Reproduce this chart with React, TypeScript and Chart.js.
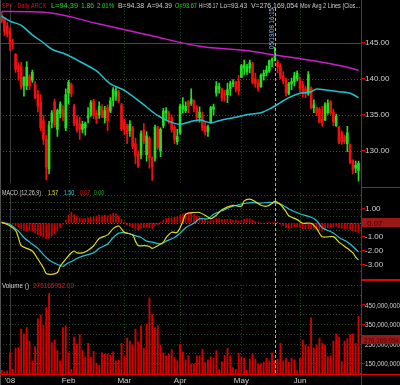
import { useEffect, useRef } from "react";
import { Chart, registerables } from "chart.js";

Chart.register(...registerables);

// ---------------- data ----------------
const MONTH_DAYS: [string, number[]][] = [
  ["2007-12", [27, 28, 31]],
  ["2008-01", [2, 3, 4, 7, 8, 9, 10, 11, 14, 15, 16, 17, 18, 22, 23, 24, 25, 28, 29, 30, 31]],
  ["2008-02", [1, 4, 5, 6, 7, 8, 11, 12, 13, 14, 15, 19, 20, 21, 22, 25, 26, 27, 28, 29]],
  ["2008-03", [3, 4, 5, 6, 7, 10, 11, 12, 13, 14, 17, 18, 19, 20, 24, 25, 26, 27, 28, 31]],
  ["2008-04", [1, 2, 3, 4, 7, 8, 9, 10, 11, 14, 15, 16, 17, 18, 21, 22, 23, 24, 25, 28, 29, 30]],
  ["2008-05", [1, 2, 5, 6, 7, 8, 9, 12, 13, 14, 15, 16, 19, 20, 21, 22, 23, 27, 28, 29, 30]],
  ["2008-06", [2, 3, 4, 5, 6, 9, 10, 11, 12, 13, 16, 17, 18, 19, 20, 23, 24, 25, 26, 27, 30]],
  ["2008-07", [1]],
];
const dates: string[] = MONTH_DAYS.flatMap(([m, ds]) =>
  ds.map((d) => `${m}-${String(d).padStart(2, "0")}`)
);

const opens = [
  148.8, 148.3, 147.3, 146.6, 145.0, 143.4, 141.8, 141.7, 139.1, 139.0,
  140.3, 139.8, 139.3, 137.8, 136.8, 134.2, 131.6, 127.5, 134.0, 136.8,
  133.0, 135.2, 135.7, 133.2, 138.0, 139.2, 136.2, 134.4, 133.8, 133.0,
  133.2, 134.6, 135.0, 136.9, 135.2, 135.0, 136.0, 134.6, 136.0, 135.5,
  137.0, 137.6, 138.2, 136.4, 134.2, 133.4, 132.8, 133.2, 131.0, 129.5,
  129.5, 132.9, 129.5, 131.8, 129.0, 129.0, 133.2, 130.0, 133.5, 135.2,
  135.3, 134.6, 133.3, 131.3, 132.5, 135.8, 135.6, 136.8, 136.6, 136.9,
  136.0, 134.6, 135.0, 133.5, 132.7, 134.0, 135.8, 138.0, 138.6, 138.6,
  137.9, 137.8, 138.6, 139.3, 139.6, 139.6, 140.2, 141.5, 141.0, 141.5,
  142.0, 140.0, 139.4, 138.9, 140.4, 140.8, 141.1, 142.5, 142.9, 142.3,
  141.8, 140.4, 139.8, 137.9, 139.3, 139.6, 140.0, 140.0, 139.2, 138.6,
  137.9, 138.7, 136.0, 136.0, 135.8, 134.4, 134.3, 135.3, 136.8, 135.4,
  133.5, 133.3, 132.5, 132.0, 131.0, 130.9, 128.6, 127.6, 127.3,
];
const highs = [
  149.3, 148.5, 147.8, 147.0, 145.5, 143.5, 142.2, 142.3, 140.3, 142.4,
  140.6, 141.2, 139.6, 138.4, 137.8, 134.9, 132.2, 134.1, 135.6, 137.2,
  135.8, 136.8, 136.3, 138.6, 139.8, 139.4, 136.5, 134.9, 134.7, 134.1,
  134.0, 136.0, 137.0, 137.2, 135.6, 136.8, 136.4, 136.2, 136.4, 137.4,
  138.8, 138.8, 138.4, 136.6, 134.5, 133.7, 134.2, 133.4, 131.8, 130.0,
  132.8, 133.8, 132.7, 132.0, 129.2, 133.6, 133.4, 133.2, 135.9, 136.0,
  135.5, 135.0, 133.6, 133.0, 136.5, 137.4, 136.8, 137.0, 138.6, 137.1,
  136.3, 136.1, 135.4, 134.0, 133.6, 136.2, 136.5, 139.6, 139.4, 138.7,
  138.4, 139.4, 139.7, 139.9, 139.7, 140.5, 142.0, 142.6, 142.0, 142.6,
  142.3, 140.8, 139.9, 140.7, 141.2, 141.8, 142.6, 142.9, 144.4, 142.6,
  142.1, 141.0, 140.1, 139.5, 140.1, 140.9, 141.1, 140.2, 139.7, 139.0,
  141.0, 138.9, 137.1, 136.1, 136.0, 136.2, 136.7, 137.1, 137.0, 135.8,
  135.1, 133.4, 132.8, 132.2, 133.4, 131.0, 128.8, 128.6, 128.6,
];
const lows = [
  147.8, 146.0, 145.8, 143.9, 144.1, 140.9, 139.8, 138.6, 137.6, 138.5,
  138.5, 139.5, 137.2, 135.4, 132.8, 130.9, 126.0, 126.8, 133.2, 133.3,
  132.0, 134.6, 134.2, 132.8, 136.5, 137.5, 133.5, 132.6, 131.6, 132.5,
  132.2, 133.9, 134.8, 134.5, 133.8, 134.5, 134.6, 133.9, 132.8, 135.3,
  136.2, 137.0, 136.7, 132.8, 132.3, 131.0, 132.0, 130.3, 128.2, 127.7,
  128.9, 131.0, 128.6, 127.6, 125.9, 128.6, 130.2, 129.2, 133.2, 134.3,
  133.8, 132.6, 131.0, 130.9, 132.3, 135.3, 135.3, 135.3, 136.3, 135.4,
  134.1, 134.0, 132.8, 132.2, 132.0, 133.8, 135.0, 137.6, 138.0, 136.9,
  136.9, 136.7, 137.7, 138.9, 138.2, 137.8, 140.2, 140.6, 140.6, 140.8,
  139.3, 138.8, 138.3, 138.8, 139.8, 140.4, 140.9, 141.7, 142.5, 140.8,
  140.0, 139.3, 137.6, 137.8, 138.5, 139.0, 139.7, 138.2, 137.5, 137.4,
  137.7, 135.8, 135.3, 134.9, 133.9, 133.4, 134.2, 135.1, 135.1, 133.5,
  133.4, 131.0, 130.9, 131.0, 129.9, 128.2, 126.8, 127.0, 125.8,
];
const closes = [
  148.0, 146.6, 146.2, 144.9, 144.8, 141.3, 141.0, 138.9, 140.2, 141.6,
  139.0, 140.9, 137.4, 136.2, 133.2, 131.6, 127.8, 133.6, 135.3, 133.6,
  135.6, 136.5, 134.7, 137.8, 139.5, 137.9, 133.8, 132.9, 133.0, 133.7,
  133.8, 134.9, 136.7, 134.9, 134.4, 136.2, 134.8, 135.6, 134.2, 137.0,
  138.5, 138.3, 136.9, 133.1, 133.0, 132.4, 133.7, 130.6, 129.3, 127.9,
  132.4, 131.4, 132.1, 129.0, 127.8, 133.3, 130.5, 133.0, 135.5, 135.6,
  134.4, 132.9, 131.6, 132.0, 136.2, 136.4, 136.2, 136.1, 137.2, 135.9,
  134.6, 135.4, 133.2, 132.6, 133.3, 136.0, 136.1, 139.0, 138.9, 137.3,
  137.7, 138.5, 139.3, 139.5, 138.6, 138.3, 141.8, 141.9, 141.7, 142.2,
  139.5, 139.3, 138.7, 140.5, 140.8, 141.2, 142.5, 142.7, 143.2, 141.7,
  140.2, 139.7, 138.0, 139.3, 139.6, 140.4, 140.8, 138.7, 138.0, 137.9,
  140.6, 136.0, 136.4, 135.3, 134.0, 133.8, 136.4, 136.6, 135.3, 134.0,
  134.8, 131.2, 131.3, 131.3, 132.5, 128.4, 127.4, 128.0, 128.3,
];
// daily volume, millions of shares
const volumesM = [
  114, 105, 110, 203, 118, 227, 230, 325, 300, 333,
  263, 162, 235, 377, 398, 344, 435, 507, 255, 268,
  214, 162, 333, 341, 203, 118, 284, 247, 296, 214,
  182, 252, 179, 211, 150, 138, 203, 195, 198, 191,
  208, 162, 165, 252, 187, 279, 263, 244, 325, 260,
  341, 227, 349, 484, 401, 333, 341, 244, 203, 187,
  195, 219, 179, 162, 247, 206, 165, 187, 146, 146,
  187, 187, 219, 154, 165, 182, 175, 214, 117, 157,
  190, 227, 187, 127, 118, 201, 183, 175, 113, 170,
  195, 170, 146, 146, 154, 175, 162, 203, 162, 170,
  252, 162, 175, 154, 175, 167, 111, 175, 268, 244,
  235, 382, 227, 244, 279, 252, 244, 182, 187, 263,
  300, 284, 158, 263, 276, 296, 300, 252, 390,
];
const macdHist = [
  0.05, 0.05, 0.0, -0.05, -0.1, -0.2, -0.3, -0.45, -0.55, -0.6,
  -0.55, -0.6, -0.75, -0.85, -0.95, -1.0, -1.15, -1.1, -0.95, -0.8,
  -0.6, -0.35, -0.1, 0.2, 0.55, 0.75, 0.6, 0.45, 0.35, 0.3,
  0.3, 0.35, 0.4, 0.45, 0.45, 0.55, 0.5, 0.55, 0.5, 0.6,
  0.7, 0.65, 0.5, 0.25, 0.05, -0.15, -0.25, -0.35, -0.45, -0.5,
  -0.4, -0.35, -0.3, -0.35, -0.4, -0.2, -0.15, 0.05, 0.2, 0.3,
  0.35, 0.35, 0.4, 0.45, 0.55, 0.65, 0.7, 0.75, 0.7, 0.6,
  0.5, 0.45, 0.35, 0.25, 0.15, 0.15, 0.2, 0.3, 0.3, 0.25,
  0.25, 0.25, 0.25, 0.2, 0.2, 0.15, 0.2, 0.25, 0.3, 0.3,
  0.2, 0.1, 0.05, -0.05, -0.05, 0.0, 0.05, 0.05, 0.07, 0.02,
  -0.1, -0.2, -0.35, -0.4, -0.35, -0.3, -0.3, -0.35, -0.4, -0.45,
  -0.4, -0.45, -0.45, -0.5, -0.55, -0.55, -0.45, -0.35, -0.3, -0.3,
  -0.25, -0.35, -0.4, -0.45, -0.45, -0.5, -0.6, -0.65, -0.7,
];
// [bar index, value] samples
const macdLine: [number, number][] = [
  [0, 0.05], [3, -0.23], [5, -0.55], [6, -1.06], [7, -1.65], [9, -1.84], [11, -2.03],
  [13, -2.61], [15, -3.26], [16, -3.65], [18, -3.71], [20, -3.58], [21, -3.13], [23, -2.61],
  [25, -2.16], [26, -2.03], [27, -2.16], [29, -2.16], [31, -1.97], [33, -1.65], [35, -1.13],
  [38, -0.87], [40, -0.42], [42, -0.23], [44, -0.68], [47, -0.87], [48, -1.32], [49, -1.65],
  [51, -1.65], [53, -1.71], [54, -1.84], [56, -1.65], [58, -1.39], [59, -1.06], [61, -0.68],
  [63, -0.68], [65, 0.1], [66, 0.61], [69, 0.74], [71, 0.74], [74, 0.42], [75, 0.29],
  [77, 0.55], [79, 0.94], [83, 1.26], [86, 1.19], [87, 1.58], [89, 1.71], [91, 1.52],
  [93, 1.26], [95, 1.19], [97, 1.39], [98, 1.55], [100, 1.32], [102, 0.8], [103, 0.5],
  [106, 0.23], [108, -0.03], [111, -0.03], [113, -0.42], [115, -1.0], [119, -1.0],
  [121, -1.39], [124, -1.84], [126, -2.16], [127, -2.48], [128, -2.68],
];
const signalLine: [number, number][] = [
  [0, 0.0], [3, -0.12], [6, -0.6], [8, -1.06], [10, -1.39], [13, -1.84], [15, -2.29],
  [17, -2.68], [20, -3.0], [22, -3.13], [23, -3.0], [26, -2.68], [28, -2.48], [31, -2.29],
  [33, -2.16], [35, -1.84], [38, -1.52], [40, -1.06], [42, -0.74], [45, -0.74], [47, -0.87],
  [50, -1.06], [52, -1.32], [54, -1.39], [57, -1.52], [59, -1.32], [62, -1.06], [64, -0.74],
  [66, -0.35], [69, -0.03], [71, 0.29], [74, 0.29], [76, 0.61], [79, 0.87], [83, 1.19],
  [87, 1.39], [90, 1.45], [93, 1.42], [96, 1.47], [99, 1.42], [101, 1.25], [103, 1.0],
  [107, 0.65], [111, 0.4], [113, 0.15], [115, -0.35], [119, -0.74], [121, -1.06],
  [124, -1.39], [126, -1.71], [128, -2.1],
];
const ma50: [number, number][] = [
  [0, 148.7], [3, 148.0], [7, 147.4], [11, 146.1], [15, 145.0], [18, 144.1], [23, 143.4],
  [28, 142.4], [34, 141.1], [39, 139.3], [44, 138.4], [50, 136.7], [56, 134.9], [60, 134.1],
  [64, 133.7], [69, 134.2], [71, 134.3], [75, 133.9], [78, 134.2], [83, 134.6], [89, 135.1],
  [93, 135.3], [96, 135.8], [100, 136.7], [103, 137.4], [107, 138.0], [111, 138.2],
  [113, 138.6], [117, 138.4], [121, 138.2], [125, 138.0], [128, 137.4],
];
const ma200: [number, number][] = [
  [0, 149.34], [16, 149.2], [35, 147.6], [53, 146.05], [71, 144.5], [89, 143.85],
  [98, 143.3], [107, 142.8], [118, 142.1], [123, 141.7], [128, 141.2],
];

const monthKeys = ["2008-01", "2008-02", "2008-03", "2008-04", "2008-05", "2008-06"];
const monthLabels = ["'08", "Feb", "Mar", "Apr", "May", "Jun"];
const priceTicks = [130, 135, 140, 145];
const macdTicks = [1, 0, -1, -2, -3];
const volumeTicks = [150e6, 250e6, 350e6, 450e6];
const crosshairDate = "2008-05-19";
const crosshairLabel = "05/19/08 16:15";
const headerTexts = [
  "SPY - Daily ARCX", "L=94.39", "1.86", "2.01%", "B=94.38", "A=94.39", "O=93.67",
  "Hi=95.17", "Lo=93.43", "V=276,169,054", "Mov Avg 2 Lines (Clos...",
];
const macdTexts = ["MACD (12,26,9)", "1.57", "1.50", "0.07", "0.00"];
const volumeTexts = ["Volume ()", "276165952.00"];
const macdBadge = "0.07";
const volumeBadgeValue = 276169054;

// ---------------- layout / style ----------------
const FONT = '"Liberation Sans", Arial, sans-serif';
const GREEN = "#20e020";
const RED = "#f01010";
const AXIS_RED = "#e00000";
const LABEL = "#d0d0d0";
const CROSS = "#8cb4e8";
const X_MIN = -0.59;
const X_MAX = 128.9;
const AXIS_W = 39;
const W = 400;

const monthStarts = monthKeys.map((k) => dates.findIndex((d) => d.startsWith(k)));
const crossIdx = dates.indexOf(crosshairDate);
const bars = dates.map((_, j) => j);

Chart.defaults.font.family = FONT;

function txt(ctx: any, s: string, x: number, y: number, color: string, size: number, maxW?: number) {
  ctx.font = `${size}px ${FONT}`;
  ctx.fillStyle = color;
  ctx.textAlign = "left";
  ctx.textBaseline = "alphabetic";
  if (maxW) ctx.fillText(s, x, y, maxW);
  else ctx.fillText(s, x, y);
}
function line(ctx: any, x0: number, y0: number, x1: number, y1: number, color: string, dash: number[] = [], lw = 1) {
  ctx.save();
  ctx.strokeStyle = color;
  ctx.lineWidth = lw;
  ctx.setLineDash(dash);
  ctx.beginPath();
  ctx.moveTo(x0, y0);
  ctx.lineTo(x1, y1);
  ctx.stroke();
  ctx.restore();
}

type HG = { v: number; c: string; d: number[] };

function decor(name: string, hGrid: HG[], after: (chart: any) => void) {
  return {
    id: "decor_" + name,
    beforeDatasetsDraw(chart: any) {
      const { ctx, chartArea: ca, scales } = chart;
      for (const g of hGrid) {
        const y = Math.round(scales.y.getPixelForValue(g.v)) + 0.5;
        line(ctx, ca.left, y, ca.right, y, g.c, g.d);
      }
      monthStarts.forEach((j, i) => {
        const x = Math.round(scales.x.getPixelForValue(j)) + 0.5;
        if (i === 0) line(ctx, x, ca.top, x, ca.bottom, "#3c3c3c");
        else line(ctx, x, ca.top, x, ca.bottom, "#1e5a1e", [1, 2]);
      });
    },
    afterDraw(chart: any) {
      const { ctx, chartArea: ca } = chart;
      line(ctx, 0.5, 0, 0.5, chart.height, "#505050");
      const ax = Math.round(ca.right) + 0.5;
      line(ctx, ax, 0, ax, chart.height, AXIS_RED);
      after(chart);
    },
  };
}

function crosshair(chart: any, top: number) {
  const x = Math.round(chart.scales.x.getPixelForValue(crossIdx)) + 0.5;
  line(chart.ctx, x, top, x, chart.height, CROSS, [3, 2]);
  return x;
}

function yAxis(min: number, max: number, ticks: number[], fmt: (v: number) => string) {
  return {
    type: "linear",
    position: "right",
    min,
    max,
    afterBuildTicks: (s: any) => {
      s.ticks = ticks.map((v) => ({ value: v }));
    },
    afterFit: (s: any) => {
      s.width = AXIS_W;
    },
    grid: { drawOnChartArea: false, drawTicks: true, tickLength: 4, tickColor: AXIS_RED, tickWidth: 1 },
    border: { display: false },
    ticks: {
      color: LABEL,
      font: { family: FONT, size: 8 },
      padding: 0,
      autoSkip: false,
      callback: (v: any) => fmt(Number(v)),
    },
  };
}

const hiddenX = {
  type: "linear",
  min: X_MIN,
  max: X_MAX,
  offset: false,
  display: false,
};

const baseOpts = {
  responsive: false,
  maintainAspectRatio: false,
  animation: false,
  devicePixelRatio: 1,
  events: [],
  layout: { padding: 0 },
  plugins: { legend: { display: false }, tooltip: { enabled: false } },
};

function makePrice(canvas: HTMLCanvasElement) {
  const colors = bars.map((j) => (closes[j] >= opens[j] ? GREEN : RED));
  const hGrid: HG[] = priceTicks.map((v) => ({
    v,
    c: v === 145 ? "#444444" : "#4c4c4c",
    d: v === 145 ? [] : [1, 2],
  }));
  const HX = [2, 51, 81, 97, 118, 147, 175, 199, 220, 251, 300];
  const HW = [44, 27, 13, 17, 26, 25, 22, 19, 27, 47, 60];
  const HC = [RED, GREEN, GREEN, GREEN, LABEL, LABEL, GREEN, LABEL, LABEL, LABEL, LABEL];
  return new Chart(canvas, {
    type: "bar",
    data: {
      datasets: [
        {
          type: "line",
          data: ma200.map(([x, y]) => ({ x, y })),
          borderColor: "#c81ec8",
          borderWidth: 1.5,
          pointRadius: 0,
          cubicInterpolationMode: "monotone",
          order: 1,
        },
        {
          type: "line",
          data: ma50.map(([x, y]) => ({ x, y })),
          borderColor: "#1ec3d0",
          borderWidth: 1.5,
          pointRadius: 0,
          cubicInterpolationMode: "monotone",
          order: 1,
        },
        {
          type: "bar",
          data: bars.map((j) => ({ x: j, y: [opens[j], closes[j]] })),
          backgroundColor: colors,
          barThickness: 2,
          minBarLength: 1,
          grouped: false,
          order: 2,
        },
        {
          type: "bar",
          data: bars.map((j) => ({ x: j, y: [lows[j], highs[j]] })),
          backgroundColor: colors,
          barThickness: 1,
          grouped: false,
          order: 3,
        },
      ],
    } as any,
    options: {
      ...baseOpts,
      scales: {
        x: hiddenX,
        y: yAxis(125.53, 150.26, priceTicks, (v) => v.toFixed(2)),
      },
    } as any,
    plugins: [
      decor("price", hGrid, (chart) => {
        const { ctx, chartArea: ca } = chart;
        const x = crosshair(chart, 8);
        ctx.save();
        ctx.translate(x - 1.5, 49);
        ctx.rotate(-Math.PI / 2);
        txt(ctx, crosshairLabel, 0, 0, CROSS, 7.5, 41);
        ctx.restore();
        headerTexts.forEach((s, i) => txt(ctx, s, HX[i], 8, HC[i], 7.5, HW[i]));
        const yb = chart.height - 0.5;
        line(ctx, ca.right, yb, W, yb, AXIS_RED);
      }),
    ],
  });
}

function makeMacd(canvas: HTMLCanvasElement) {
  const hGrid: HG[] = [];
  for (let v = -3.5; v <= 2.01; v += 0.5) {
    const r = Math.round(v * 2) / 2;
    hGrid.push({
      v: r,
      c: r === 0 ? "#4a7a1a" : Number.isInteger(r) ? "#3a3a3a" : "#1a4a1a",
      d: [1, 2],
    });
  }
  const MX = [2, 48, 64, 80, 94];
  const MW = [39, 10, 10, 10, 10];
  const MC = [LABEL, "#e0e020", "#30d0e0", RED, "#10b010"];
  return new Chart(canvas, {
    type: "bar",
    data: {
      datasets: [
        {
          type: "line",
          data: macdLine.map(([x, y]) => ({ x, y })),
          borderColor: "#dcdc1e",
          borderWidth: 1.2,
          pointRadius: 0,
          tension: 0.3,
          order: 1,
        },
        {
          type: "line",
          data: signalLine.map(([x, y]) => ({ x, y })),
          borderColor: "#22c4d6",
          borderWidth: 1.2,
          pointRadius: 0,
          tension: 0.3,
          order: 2,
        },
        {
          type: "bar",
          data: bars.map((j) => ({ x: j, y: macdHist[j] })),
          backgroundColor: "#d00000",
          barThickness: 1,
          grouped: false,
          order: 3,
        },
      ],
    } as any,
    options: {
      ...baseOpts,
      scales: {
        x: hiddenX,
        y: yAxis(-3.774, 2.161, macdTicks, (v) => v.toFixed(2)),
      },
    } as any,
    plugins: [
      decor("macd", hGrid, (chart) => {
        const { ctx, chartArea: ca, scales } = chart;
        crosshair(chart, 0);
        macdTexts.forEach((s, i) => txt(ctx, s, MX[i], 7, MC[i], 7.5, MW[i]));
        const yb = chart.height - 0.5;
        line(ctx, ca.right, yb, W, yb, AXIS_RED);
        const y = Math.round(scales.y.getPixelForValue(macdHist[crossIdx]));
        ctx.fillStyle = "#9a1818";
        ctx.fillRect(Math.round(ca.right) + 1, y - 4, W, 9);
        txt(ctx, macdBadge, Math.round(ca.right) + 6, y + 3.5, "#4a0000", 8);
      }),
    ],
  });
}

function makeVolume(canvas: HTMLCanvasElement) {
  const hGrid: HG[] = [];
  for (let v = 100e6; v <= 550e6; v += 50e6) {
    const labeled = Math.round(v / 50e6) % 2 === 1;
    hGrid.push({ v, c: labeled ? "#1a4a1a" : "#383838", d: [1, 2] });
  }
  return new Chart(canvas, {
    type: "bar",
    data: {
      datasets: [
        {
          type: "bar",
          data: bars.map((j) => ({ x: j, y: volumesM[j] * 1e6 })),
          backgroundColor: "#d40000",
          barThickness: 1.2,
          grouped: false,
        },
      ],
    } as any,
    options: {
      ...baseOpts,
      scales: {
        x: {
          type: "linear",
          min: X_MIN,
          max: X_MAX,
          offset: false,
          position: "bottom",
          afterBuildTicks: (s: any) => {
            s.ticks = monthStarts.map((v) => ({ value: v }));
          },
          afterFit: (s: any) => {
            s.height = 11;
          },
          grid: { display: false, drawTicks: false },
          border: { display: false },
          ticks: {
            color: LABEL,
            font: { family: FONT, size: 8 },
            padding: 2,
            maxRotation: 0,
            autoSkip: false,
            callback: (v: any) => monthLabels[monthStarts.indexOf(Number(v))] ?? "",
          },
        },
        // labels of this axis are drawn by the plugin so they can be narrowed to fit
        y: yAxis(93.9e6, 552.4e6, volumeTicks, () => ""),
      },
    } as any,
    plugins: [
      decor("volume", hGrid, (chart) => {
        const { ctx, chartArea: ca, scales } = chart;
        const x = Math.round(scales.x.getPixelForValue(crossIdx)) + 0.5;
        line(ctx, x, 0, x, ca.bottom, CROSS, [3, 2]);
        txt(ctx, volumeTexts[0], 2, 8, LABEL, 7.5, 27);
        txt(ctx, volumeTexts[1], 33, 8, RED, 7.5, 41);
        volumeTicks.forEach((v) => {
          const ty = scales.y.getPixelForValue(v);
          txt(ctx, v.toLocaleString("en-US"), Math.round(ca.right) + 4, ty + 3, LABEL, 8, 35);
        });
        line(ctx, ca.right, 0.5, W, 0.5, AXIS_RED);
        const yb = Math.round(ca.bottom) + 0.5;
        line(ctx, 0, yb, W, yb, AXIS_RED);
        const y = Math.round(scales.y.getPixelForValue(volumeBadgeValue));
        ctx.fillStyle = "#9a1818";
        ctx.fillRect(Math.round(ca.right) + 1, y - 4, W, 9);
        txt(ctx, volumeBadgeValue.toLocaleString("en-US"), Math.round(ca.right) + 3, y + 3.5, "#4a0000", 8, 35);
      }),
    ],
  });
}

export default function App() {
  const pRef = useRef<HTMLCanvasElement>(null);
  const mRef = useRef<HTMLCanvasElement>(null);
  const vRef = useRef<HTMLCanvasElement>(null);

  useEffect(() => {
    document.body.style.margin = "0";
    document.body.style.background = "#000";
    const charts = [
      makePrice(pRef.current!),
      makeMacd(mRef.current!),
      makeVolume(vRef.current!),
    ];
    return () => charts.forEach((c) => c.destroy());
  }, []);

  const cs = (top: number, h: number) => ({
    position: "absolute" as const,
    left: 0,
    top,
    width: W,
    height: h,
    display: "block",
  });

  return (
    <div style={{ position: "fixed", left: 0, top: 0, width: W, height: 385, background: "#000", overflow: "hidden" }}>
      <canvas ref={pRef} width={W} height={188} style={cs(0, 188)} />
      <canvas ref={mRef} width={W} height={92} style={cs(188, 92)} />
      <canvas ref={vRef} width={W} height={105} style={cs(280, 105)} />
    </div>
  );
}
